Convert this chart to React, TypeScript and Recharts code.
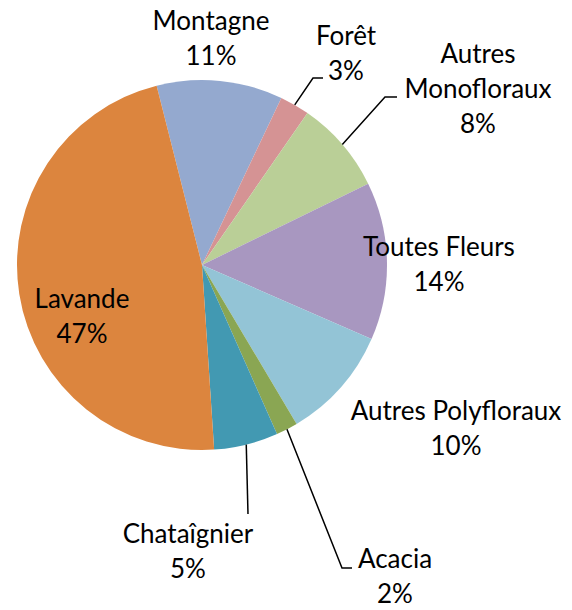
import React from 'react';
import { PieChart, Pie, Cell } from 'recharts';

// slice names and shares (%), clockwise from the top
const names = ['Montagne', 'Forêt', 'Autres Monofloraux', 'Toutes Fleurs', 'Autres Polyfloraux', 'Acacia', 'Chataîgnier', 'Lavande'];
const shares = [11, 2.6, 8.1, 13.8, 9.9, 1.9, 5.6, 47.1];
const labelLines = [['Montagne', '11%'], ['Forêt', '3%'], ['Autres', 'Monofloraux', '8%'], ['Toutes Fleurs', '14%'], ['Autres Polyfloraux', '10%'], ['Acacia', '2%'], ['Chataîgnier', '5%'], ['Lavande', '47%']];
const COLORS = ['#94A9CF', '#D59394', '#BACF97', '#A897C0', '#93C4D6', '#8AA653', '#4299B2', '#DC853E'];

const data = names.map((name, i) => ({ name, value: shares[i] }));

// label layout (page coords): text centre x, first line y, and optional leader elbow/end
const LAYOUT: { x: number; y: number; elbow?: [number, number]; end?: [number, number] }[] = [
  { x: 211, y: 20 },
  { x: 346, y: 35, elbow: [313, 78], end: [323, 78] },
  { x: 478, y: 53, elbow: [385, 97], end: [397, 97] },
  { x: 439, y: 246 },
  { x: 456, y: 410 },
  { x: 395, y: 558, elbow: [342, 568], end: [352, 568] },
  { x: 188, y: 533, elbow: [248, 514], end: [248, 514] },
  { x: 82, y: 298 },
];

const RAD = Math.PI / 180;
const LINE_H = 35;

const renderLabel = (props: any) => {
  const { cx, cy, midAngle, outerRadius, index } = props;
  const lay = LAYOUT[index];
  const lines = labelLines[index];
  const sx = cx + outerRadius * Math.cos(-midAngle * RAD);
  const sy = cy + outerRadius * Math.sin(-midAngle * RAD);
  return (
    <g key={`lbl-${index}`}>
      {lay.elbow && (
        <polyline
          points={`${sx},${sy} ${lay.elbow[0]},${lay.elbow[1]} ${lay.end![0]},${lay.end![1]}`}
          fill="none"
          stroke="#000"
          strokeWidth={1.5}
        />
      )}
      <text textAnchor="middle" dominantBaseline="central" fill="#000" fontSize={26} fontFamily="Lato, 'Open Sans', sans-serif">
        {lines.map((t, j) => (
          <tspan key={j} x={lay.x} y={lay.y + j * LINE_H}>
            {t}
          </tspan>
        ))}
      </text>
    </g>
  );
};

export default function App() {
  return (
    <div style={{ position: 'absolute', left: 0, top: 0, width: 572, height: 610 }}>
      <PieChart width={572} height={610} margin={{ top: 0, right: 0, bottom: 0, left: 0 }}>
        <Pie
          data={data}
          dataKey="value"
          nameKey="name"
          cx={202}
          cy={265}
          outerRadius={185}
          startAngle={104.2}
          endAngle={-255.8}
          stroke="none"
          label={renderLabel}
          labelLine={false}
          isAnimationActive={false}
        >
          {data.map((entry, index) => (
            <Cell key={`cell-${index}`} fill={COLORS[index]} />
          ))}
        </Pie>
      </PieChart>
    </div>
  );
}
